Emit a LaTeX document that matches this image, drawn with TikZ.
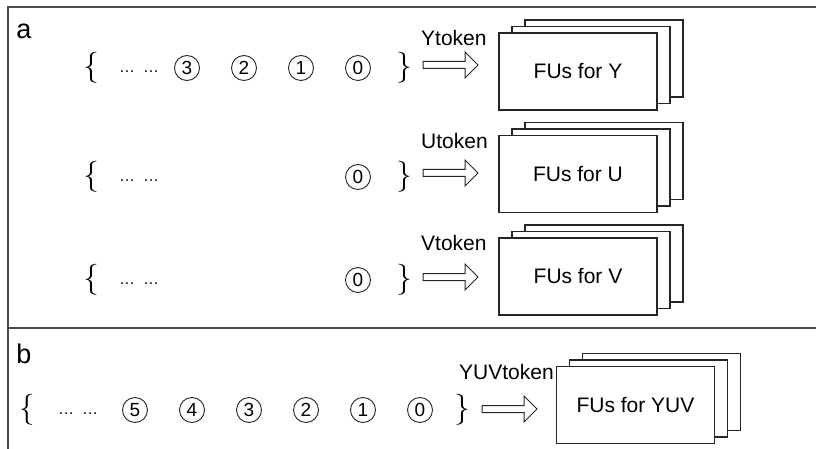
\documentclass[tikz,border=0pt]{standalone}
\usepackage{fontspec}
\setmainfont{Liberation Sans}
\newfontfamily\bracefont{Latin Modern Roman}
\usetikzlibrary{calc}
\newcommand\hollowarrow[1]{%
  \draw[harrow] ($(#1)+(0,-3.5)$) -- ++(42,0) -- ++(0,-9.5) -- ++(13,13)
     -- ++(-13,13) -- ++(0,-9.5) -- ++(-42,0) -- cycle;}
\begin{document}
\begin{tikzpicture}[x=1pt,y=-1pt,
  frame/.style={draw=black!70, line width=1.4pt},
  fu/.style={draw=black!85, line width=1.1pt, fill=white, minimum width=158pt,
             minimum height=77pt, inner sep=0pt, font=\fontsize{21}{21}\selectfont},
  num/.style={circle, draw=black!85, line width=0.9pt, minimum size=25pt, inner sep=0pt,
              font=\fontsize{19}{19}\selectfont},
  brace/.style={inner sep=0pt, font=\bracefont\fontsize{31}{31}\selectfont},
  dots/.style={inner sep=0pt, font=\fontsize{16}{16}\selectfont},
  tok/.style={inner sep=0pt, anchor=west, font=\fontsize{21}{21}\selectfont},
  lbl/.style={inner sep=0pt, font=\fontsize{27}{27}\selectfont},
  harrow/.style={draw=black!85, line width=1pt, line join=miter}
]
\useasboundingbox (0,0) rectangle (816,449);

% frame
\coordinate (ftl) at (8,7);
\coordinate (ftr) at (816,7);
\coordinate (fbl) at (8,449);
\coordinate (fdl) at (8,328);
\coordinate (fdr) at (816,328);
\draw[frame] (ftr) -- (ftl) -- (fbl);
\draw[frame] (fdl) -- (fdr);

\node[lbl] (la) at (24,31) {a};
\node[lbl] (lb) at (24,354) {b};

% ---------- row Y ----------
\node[brace] (lbY) at (91,68) {\{};
\node[dots]  (dY)  at (139,72) {…\hspace{8pt}…};
\node[num] (y3) at (187,68) {3};
\node[num] (y2) at (244,68) {2};
\node[num] (y1) at (301,68) {1};
\node[num] (y0) at (358,68) {0};
\node[brace] (rbY) at (404,68) {\}};
\coordinate (aY) at (423,65);
\hollowarrow{aY}
\node[tok] (tY) at (421,38) {Ytoken};
\node[fu] (fY3) at (604,58.5) {};
\node[fu] (fY2) at (591,65) {};
\node[fu] (fY1) at (578,71.5) {FUs for Y};

% ---------- row U ----------
\node[brace] (lbU) at (91,177) {\{};
\node[dots]  (dU)  at (139,181) {…\hspace{8pt}…};
\node[num] (u0) at (358,177) {0};
\node[brace] (rbU) at (404,177) {\}};
\coordinate (aU) at (423,173);
\hollowarrow{aU}
\node[tok] (tU) at (421,141) {Utoken};
\node[fu] (fU3) at (604,161) {};
\node[fu] (fU2) at (591,167.5) {};
\node[fu] (fU1) at (578,174) {FUs for U};

% ---------- row V ----------
\node[brace] (lbV) at (91,280) {\{};
\node[dots]  (dV)  at (139,284) {…\hspace{8pt}…};
\node[num] (v0) at (358,280) {0};
\node[brace] (rbV) at (404,280) {\}};
\coordinate (aV) at (423,277);
\hollowarrow{aV}
\node[tok] (tV) at (421,243) {Vtoken};
\node[fu] (fV3) at (604,263.5) {};
\node[fu] (fV2) at (591,270) {};
\node[fu] (fV1) at (578,276.5) {FUs for V};

% ---------- row YUV ----------
\node[brace] (lbB) at (27,410) {\{};
\node[dots]  (dB)  at (78,414) {…\hspace{8pt}…};
\node[num] (b5) at (135,410) {5};
\node[num] (b4) at (192,410) {4};
\node[num] (b3) at (249,410) {3};
\node[num] (b2) at (306,410) {2};
\node[num] (b1) at (363,410) {1};
\node[num] (b0) at (420,410) {0};
\node[brace] (rbB) at (462,410) {\}};
\coordinate (aB) at (482,409);
\hollowarrow{aB}
\node[tok] (tB) at (459,372) {YUVtoken};
\node[fu] (fB3) at (661.5,392) {};
\node[fu] (fB2) at (648.5,398.5) {};
\node[fu] (fB1) at (635.5,405) {FUs for YUV};
\end{tikzpicture}
\end{document}
